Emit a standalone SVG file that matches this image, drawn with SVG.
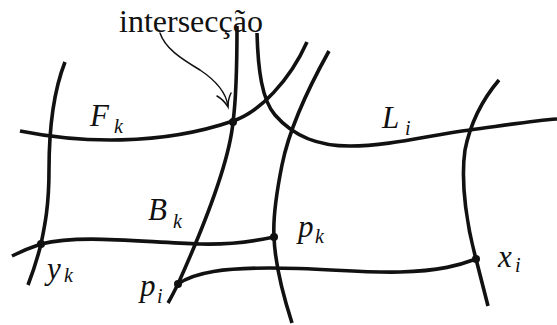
<svg xmlns="http://www.w3.org/2000/svg" width="557" height="325" viewBox="0 0 557 325">
<style>
.c{fill:none;stroke:#111;stroke-width:3.6;stroke-linecap:butt}
.a{fill:none;stroke:#111;stroke-width:1.5;stroke-linecap:round}
.d{fill:#111}
.m{font-family:"Liberation Serif","Times New Roman",serif;font-style:italic;font-size:31px;fill:#111}
.s{font-family:"Liberation Serif","Times New Roman",serif;font-style:italic;font-size:20px;fill:#111}
.t{font-family:"Liberation Serif","Times New Roman",serif;font-size:32px;fill:#111}
</style>
<rect width="557" height="325" fill="#fff"/>
<g id="curves">
<path id="curve-left" class="c" d="M65,62 C54,90 49,130 49,170 C49,205 45,225 41,244 C37,260 33,272 28,285"/>
<path id="curve-Fk" class="c" d="M20,131 C80,143 160,146 233,121 C260,112 290,80 307,42"/>
<path id="curve-v1" class="c" d="M237,26 C237,65 236,100 233,122 C229,165 200,235 178,284 C174,292 171,298 168,303"/>
<path id="curve-Li" class="c" d="M257,33 C258,70 262,100 275,115 C295,138 320,146 350,146 C390,146 430,135 470,130 C500,126 530,121 557,119"/>
<path id="curve-v2" class="c" d="M329,51 C310,85 290,125 282,165 C276,195 273,220 274,237 C275,265 283,295 292,323"/>
<path id="curve-right" class="c" d="M499,80 C482,100 470,125 465,150 C460,185 468,230 476,259 C480,275 484,290 488,306"/>
<path id="curve-Bk" class="c" d="M12,256 C22,251 32,247 41,244 C80,234 140,242 200,244 C230,245 255,241 274,237"/>
<path id="curve-low" class="c" d="M178,284 C195,272 225,268 270,268 C320,268 360,273 400,272 C440,271 460,265 476,259"/>
</g>
<g id="points">
<circle id="pt-int" class="d" cx="233" cy="122" r="4"/>
<circle id="pt-yk" class="d" cx="41" cy="244" r="4"/>
<circle id="pt-pk" class="d" cx="274" cy="237" r="4"/>
<circle id="pt-pi" class="d" cx="178" cy="284" r="4"/>
<circle id="pt-xi" class="d" cx="476" cy="259" r="4"/>
</g>
<g id="connectors">
<path class="a" d="M160,33 C165,48 180,58 200,70 C215,80 226,92 228,106"/>
<path class="a" d="M217,96 Q224,100 228,107 Q228,99 231,93"/>
</g>
<g id="labels">
<text class="t" x="119" y="32">intersecção</text>
<text class="m" x="90" y="126">F</text><text class="s" x="114" y="133">k</text>
<text class="m" x="382" y="128">L</text><text class="s" x="405" y="135">i</text>
<text class="m" x="148" y="220">B</text><text class="s" x="173" y="228">k</text>
<text class="m" x="47" y="279">y</text><text class="s" x="64" y="282">k</text>
<text class="m" x="140" y="296">p</text><text class="s" x="157" y="303">i</text>
<text class="m" x="298" y="237">p</text><text class="s" x="315" y="243">k</text>
<text class="m" x="498" y="267">x</text><text class="s" x="515" y="272">i</text>
</g>
</svg>
